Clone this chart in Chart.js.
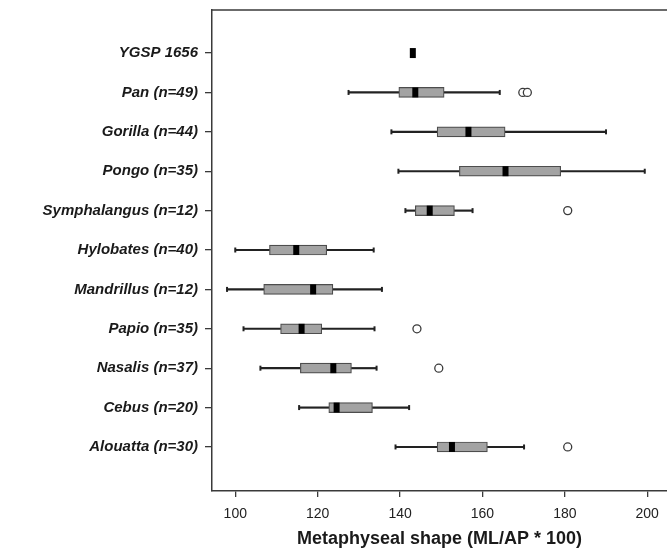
<!DOCTYPE html>
<html>
<head>
<meta charset="utf-8">
<script src="https://cdn.jsdelivr.net/npm/chart.js@4/dist/chart.umd.min.js"></script>
<style>
  body { margin: 0; background: #fff; }
</style>
</head>
<body>
<canvas id="myChart" width="667" height="551"></canvas>
<script>
// Box plot data (ML/AP * 100)
const categories = ['YGSP 1656', 'Pan (n=49)', 'Gorilla (n=44)', 'Pongo (n=35)', 'Symphalangus (n=12)',
    'Hylobates (n=40)', 'Mandrillus (n=12)', 'Papio (n=35)', 'Nasalis (n=37)', 'Cebus (n=20)', 'Alouatta (n=30)'];
const whiskerLow  = [null, 127.5, 137.9, 139.6, 141.3, 100.0, 98.0, 102.0, 106.1, 115.5, 138.9];
const q1          = [null, 139.7, 149.0, 154.4, 143.7, 108.3, 106.9, 111.0, 115.8, 122.7, 149.0];
const medians     = [143.1, 143.7, 156.6, 165.6, 147.2, 114.8, 118.9, 116.1, 123.8, 124.6, 152.6];
const q3          = [null, 150.7, 165.5, 179.0, 153.2, 122.2, 123.7, 121.0, 128.2, 133.3, 161.2];
const whiskerHigh = [null, 164.2, 190.0, 199.4, 157.6, 133.6, 135.6, 133.8, 134.3, 142.2, 170.1];
const outliers    = [[], [169.8, 170.9], [], [], [180.7], [], [], [144.1], [149.4], [], [180.7]];
const xTicks = [100, 120, 140, 160, 180, 200];

const axisColor = '#3a3a3a';
const pos = i => i + 1; // category position on the y scale

function buildDatasets() {
    const lowerWhisker = [], upperWhisker = [], boxes = [], caps = [], meds = [], outs = [];
    categories.forEach((c, i) => {
        const y = pos(i);
        if (q1[i] !== null) {
            lowerWhisker.push({ y, x: [whiskerLow[i], q1[i]] });
            upperWhisker.push({ y, x: [q3[i], whiskerHigh[i]] });
            boxes.push({ y, x: [q1[i], q3[i]] });
            caps.push({ x: whiskerLow[i], y }, { x: whiskerHigh[i], y });
        }
        meds.push({ x: medians[i], y });
        outliers[i].forEach(v => outs.push({ x: v, y }));
    });

    const whiskerStyle = {
        type: 'bar', grouped: false, barThickness: 1.5,
        backgroundColor: '#222', borderWidth: 0
    };

    // Chart.js paints the first dataset last, so the top layer comes first here
    return [
        {
            type: 'scatter', data: outs, pointStyle: 'circle', radius: 4,
            backgroundColor: '#fff', borderColor: '#3a3a3a', borderWidth: 1.3
        },
        {
            type: 'scatter', data: meds, pointStyle: 'line', rotation: 90,
            radius: 5, borderWidth: 6, borderColor: '#000'
        },
        {
            type: 'bar', grouped: false, barThickness: 10, data: boxes,
            backgroundColor: '#a3a3a3', borderColor: '#4d4d4d', borderWidth: 1.2, borderSkipped: false
        },
        {
            type: 'scatter', data: caps, pointStyle: 'line', rotation: 90,
            radius: 2.5, borderWidth: 2, borderColor: '#222'
        },
        { ...whiskerStyle, data: lowerWhisker },
        { ...whiskerStyle, data: upperWhisker }
    ];
}

// top frame line of the plot box
const topBorder = {
    id: 'topBorder',
    afterDraw(chart) {
        const { ctx, chartArea } = chart;
        ctx.save();
        ctx.strokeStyle = axisColor;
        ctx.lineWidth = 1.5;
        ctx.beginPath();
        ctx.moveTo(chartArea.left, chartArea.top);
        ctx.lineTo(chartArea.right, chartArea.top);
        ctx.stroke();
        ctx.restore();
    }
};

const ctx = document.getElementById('myChart').getContext('2d');
new Chart(ctx, {
    type: 'bar',
    data: { datasets: buildDatasets() },
    plugins: [topBorder],
    options: {
        indexAxis: 'y',
        responsive: false,
        animation: false,
        layout: { autoPadding: false, padding: { top: 10, right: 0, bottom: 0, left: 0 } },
        plugins: { legend: { display: false }, tooltip: { enabled: false } },
        scales: {
            x: {
                type: 'linear',
                min: 94.35,
                max: 204.8,
                afterBuildTicks: axis => { axis.ticks = xTicks.map(v => ({ value: v })); },
                afterFit: axis => {
                    axis.height = 60;
                    axis.paddingLeft = 0;
                    axis.paddingRight = 0;
                },
                border: { color: axisColor, width: 1.5 },
                grid: { drawOnChartArea: false, drawTicks: true, tickLength: 6, color: axisColor, lineWidth: 1.3 },
                ticks: {
                    padding: 9,
                    color: '#222',
                    font: { family: "'Liberation Sans', Arial, sans-serif", size: 14 }
                },
                title: {
                    display: true,
                    text: 'Metaphyseal shape (ML/AP * 100)',
                    color: '#1a1a1a',
                    font: { family: "'Liberation Sans', Arial, sans-serif", size: 18, weight: 'bold' },
                    padding: { top: 0, bottom: 1.5 }
                }
            },
            y: {
                type: 'linear',
                reverse: true,
                offset: false,
                min: -0.093,
                max: 12.118,
                afterBuildTicks: axis => { axis.ticks = categories.map((c, i) => ({ value: pos(i) })); },
                afterFit: axis => {
                    axis.width = 212;
                    axis.paddingTop = 0;
                    axis.paddingBottom = 0;
                },
                border: { color: axisColor, width: 1.5 },
                grid: { offset: false, drawOnChartArea: false, drawTicks: true, tickLength: 7, color: axisColor, lineWidth: 1.3 },
                ticks: {
                    padding: 7,
                    color: '#1a1a1a',
                    font: { family: "'Liberation Sans', Arial, sans-serif", size: 15, weight: 'bold', style: 'italic' },
                    callback: value => categories[value - 1] ?? ''
                }
            }
        }
    }
});
</script>
</body>
</html>
